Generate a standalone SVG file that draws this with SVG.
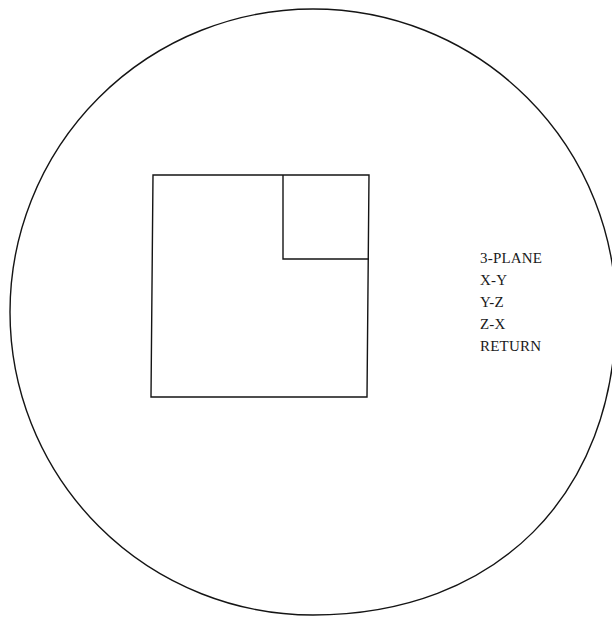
<svg xmlns="http://www.w3.org/2000/svg" width="612" height="617" viewBox="0 0 612 617">
<style>
.ln{fill:none;stroke:#141414;stroke-width:1.4}
.t{font-family:"Liberation Serif","Times New Roman",serif;font-size:15px;letter-spacing:0.2px;fill:#1a1a1a}
</style>
<rect width="612" height="617" fill="#fff"/>
<g id="screen"><path class="ln" d="M 10,312 A 303 303 0 0 1 616,312 C 616,495 496,615 313,615 A 303 303 0 0 1 10,312 Z"/></g>
<g id="view-outer"><polygon class="ln" points="153,175 369,175 367,397 151,397"/></g>
<g id="view-inner"><polyline class="ln" points="283,175 283,259 369,259"/></g>
<g id="menu">
<text class="t" x="480" y="263">3-PLANE</text>
<text class="t" x="480" y="285">X-Y</text>
<text class="t" x="480" y="307">Y-Z</text>
<text class="t" x="480" y="329">Z-X</text>
<text class="t" x="480" y="351">RETURN</text>
</g>
</svg>
